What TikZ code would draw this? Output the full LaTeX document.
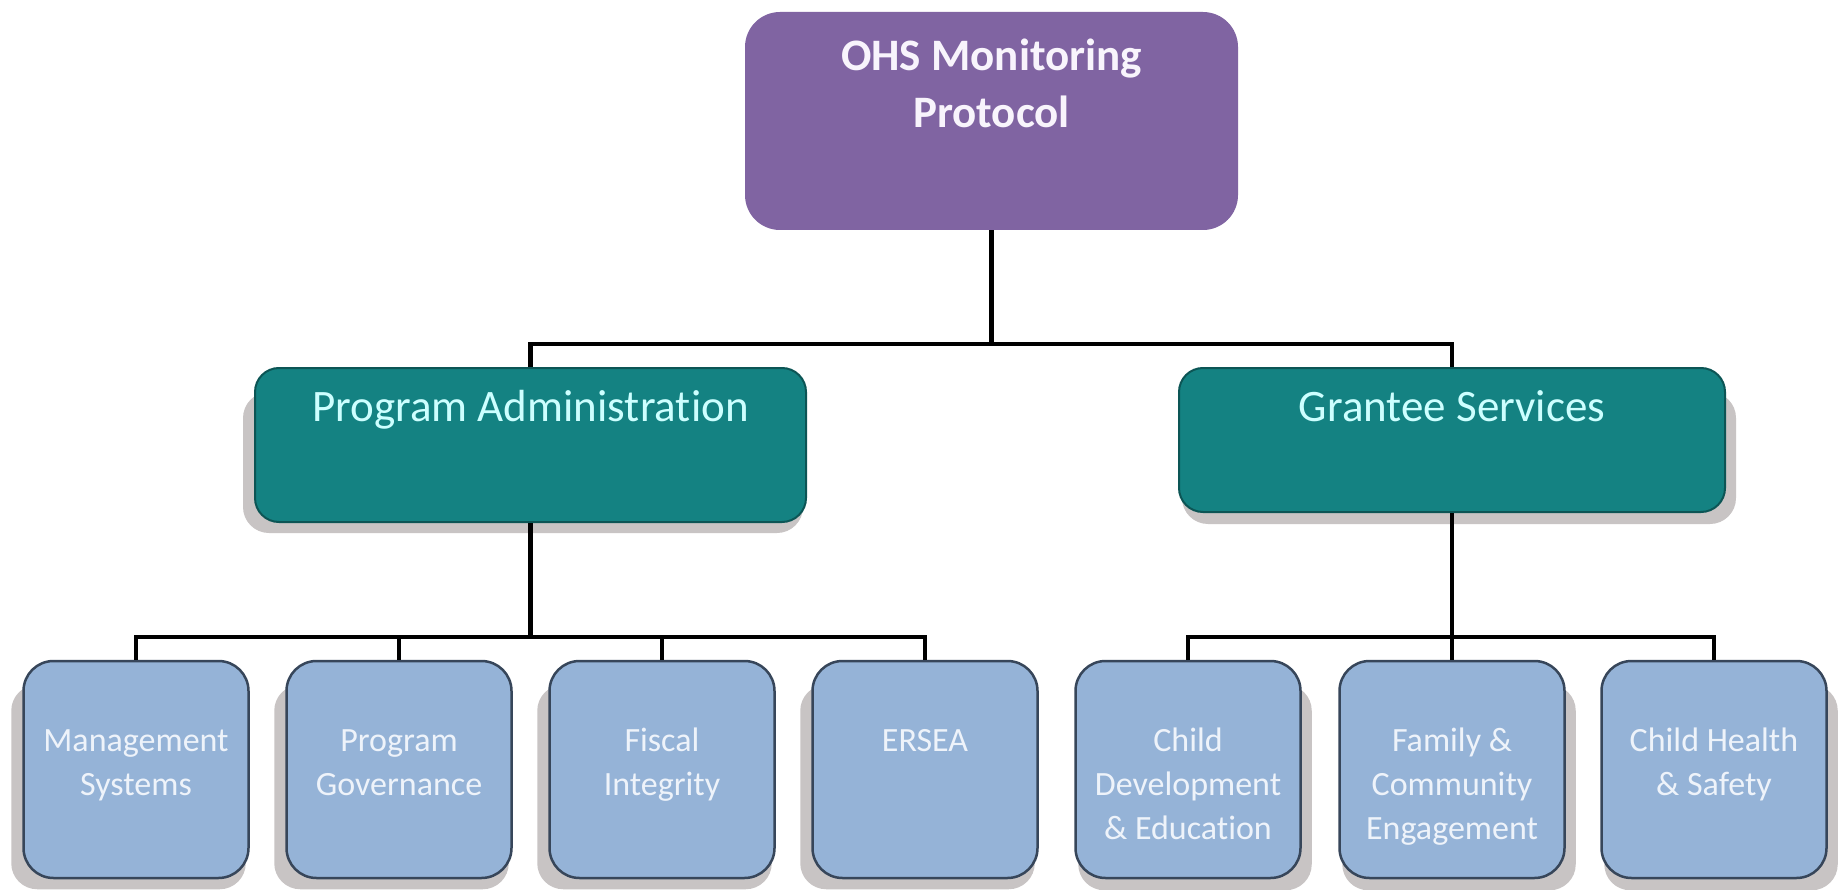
\documentclass[tikz,border=0pt]{standalone}
\usepackage{fontspec}
\setmainfont{Carlito}[Ligatures=NoCommon]
\usetikzlibrary{backgrounds}
\definecolor{ohsfill}{RGB}{128,100,162}
\definecolor{ohstext}{RGB}{248,244,252}
\definecolor{tealfill}{RGB}{20,130,130}
\definecolor{tealline}{RGB}{12,85,85}
\definecolor{tealtext}{RGB}{205,255,255}
\definecolor{leaffill}{RGB}{149,179,215}
\definecolor{leafline}{RGB}{55,70,90}
\definecolor{leaftext}{RGB}{238,243,250}
\definecolor{shadowc}{RGB}{200,196,196}
\begin{document}
\begin{tikzpicture}[x=1pt,y=-1pt,
  rootbox/.style={fill=ohsfill, rounded corners=35pt, inner sep=0pt,
    minimum width=493pt, minimum height=218pt},
  areabox/.style={fill=tealfill, draw=tealline, line width=2pt, rounded corners=24pt,
    inner sep=0pt, minimum width=#1},
  leafbox/.style={fill=leaffill, draw=leafline, line width=2.5pt, rounded corners=30pt,
    inner sep=0pt, minimum width=225pt, minimum height=217pt},
  roottext/.style={font=\fontsize{45}{57}\selectfont\bfseries, text=ohstext,
    align=center, anchor=north, inner sep=0pt},
  areatext/.style={font=\fontsize{45}{57}\selectfont, text=tealtext,
    anchor=base, inner sep=0pt},
  leaftext/.style={font=\fontsize{34}{44}\selectfont, text=leaftext,
    align=center, anchor=north, inner sep=0pt},
  wire/.style={line width=4.5pt, black},
  shade/.style={fill=shadowc, rounded corners=26pt}]

\useasboundingbox (0,0) rectangle (1841,890);

% root
\node[rootbox] (ohs) at (991.5,121) {};
\node[roottext] (ohs-t) at ([shift={(0,19)}]ohs.north) {\strut OHS Monitoring\\Protocol};

% second level
\node[areabox=551pt, minimum height=154pt] (pa) at (530.5,445) {};
\node[areabox=546pt, minimum height=144pt] (gs) at (1452,440) {};
\node[areatext] (pa-t) at (530.5,421) {Program Administration};
\node[areatext] (gs-t) at (1452,421) {Grantee Services};

% leaves
\node[leafbox] (ms) at (136,769.5) {};
\node[leafbox] (pg) at (399,769.5) {};
\node[leafbox] (fi) at (662,769.5) {};
\node[leafbox] (er) at (925,769.5) {};
\node[leafbox] (cd) at (1188,769.5) {};
\node[leafbox] (fc) at (1452,769.5) {};
\node[leafbox] (ch) at (1714,769.5) {};

\node[leaftext] (ms-t) at ([shift={(0,61)}]ms.north) {\strut Management\\Systems};
\node[leaftext] (pg-t) at ([shift={(0,61)}]pg.north) {\strut Program\\Governance};
\node[leaftext] (fi-t) at ([shift={(0,61)}]fi.north) {\strut Fiscal\\Integrity};
\node[leaftext] (er-t) at ([shift={(0,61)}]er.north) {\strut ERSEA};
\node[leaftext] (cd-t) at ([shift={(0,61)}]cd.north) {\strut Child\\Development\\\& Education};
\node[leaftext] (fc-t) at ([shift={(0,61)}]fc.north) {\strut Family \&\\Community\\Engagement};
\node[leaftext] (ch-t) at ([shift={(0,61)}]ch.north) {\strut Child Health\\\& Safety};

% page background and drop shadows behind the boxes
\begin{scope}[on background layer]
  \fill[white] (0,0) rectangle (1841,890);
  \foreach \n in {pa,ms,pg,fi,er}
    \fill[shade] ([shift={(-11,25)}]\n.north west) rectangle ([shift={(-4,10)}]\n.south east);
  \foreach \n in {gs,cd,fc,ch}
    \fill[shade] ([shift={(4,25)}]\n.north west) rectangle ([shift={(10,11)}]\n.south east);
\end{scope}

% connectors
\coordinate (bus0) at (991.5,344);
\draw[wire] (ohs.south) -- (bus0);
\draw[wire] (pa.north) |- (bus0) -| (gs.north);

\coordinate (bus1) at (530.5,637);
\draw[wire] (pa.south) -- (bus1);
\draw[wire] (ms.north) |- (bus1) -| (er.north);
\draw[wire] (pg.north) -- (pg.north |- bus1);
\draw[wire] (fi.north) -- (fi.north |- bus1);

\coordinate (bus2) at (1452,637);
\draw[wire] (gs.south) -- (bus2);
\draw[wire] (cd.north) |- (bus2) -| (ch.north);
\draw[wire] (fc.north) -- (bus2);
\end{tikzpicture}
\end{document}
